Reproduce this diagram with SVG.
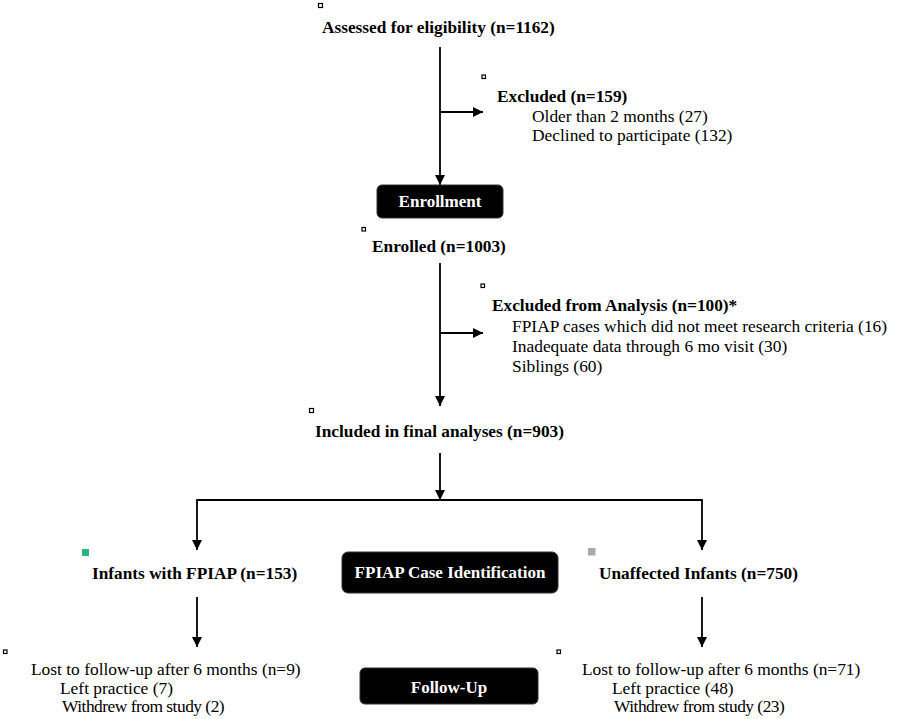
<svg xmlns="http://www.w3.org/2000/svg" width="900" height="719" viewBox="0 0 900 719">
<defs>
<marker id="ah" viewBox="0 0 10 10" refX="10" refY="5" markerWidth="10" markerHeight="10" markerUnits="userSpaceOnUse" orient="auto">
<path d="M0,0 L10,5 L0,10 Z" fill="#000"/>
</marker>
<style>
.b{font-family:"Liberation Serif","Times New Roman",serif;font-weight:bold;font-size:17.3px;fill:#000}
.r{font-family:"Liberation Serif","Times New Roman",serif;font-size:17.4px;fill:#000}
.w{font-family:"Liberation Serif","Times New Roman",serif;font-weight:bold;font-size:17px;fill:#fff}
.t{letter-spacing:-0.5px}
.sq{fill:#fff;stroke:#000;stroke-width:1.2}
.box{fill:#000;stroke:#333;stroke-width:1}
.ln{fill:none;stroke:#000;stroke-width:1.8}
</style>
</defs>
<rect width="900" height="719" fill="#fff"/>
<g id="connectors">
<line class="ln" x1="440" y1="47" x2="440" y2="185" marker-end="url(#ah)"/>
<line class="ln" x1="440" y1="112" x2="483" y2="112" marker-end="url(#ah)"/>
<line class="ln" x1="440" y1="263" x2="440" y2="406" marker-end="url(#ah)"/>
<line class="ln" x1="440" y1="333" x2="483" y2="333" marker-end="url(#ah)"/>
<line class="ln" x1="440" y1="453" x2="440" y2="500" marker-end="url(#ah)"/>
<polyline class="ln" points="197,500 702,500"/>
<line class="ln" x1="197" y1="499" x2="197" y2="550" marker-end="url(#ah)"/>
<line class="ln" x1="702" y1="499" x2="702" y2="550" marker-end="url(#ah)"/>
<line class="ln" x1="197" y1="597" x2="197" y2="647" marker-end="url(#ah)"/>
<line class="ln" x1="702" y1="597" x2="702" y2="647" marker-end="url(#ah)"/>
</g>
<g id="assessed">
<rect class="sq" x="318.5" y="3.5" width="4" height="4"/>
<text class="b" x="322" y="33">Assessed  for eligibility (n=1162)</text>
</g>
<g id="excluded">
<rect class="sq" x="482" y="75" width="3.5" height="3.5"/>
<text class="b" x="497" y="102">Excluded (n=159)</text>
<text class="r" x="532" y="122">Older than 2 months (27)</text>
<text class="r" x="532" y="141">Declined to participate (132)</text>
</g>
<g id="enrollment">
<rect class="box" x="377" y="185" width="126" height="33" rx="5"/>
<text class="w" x="440" y="207" text-anchor="middle">Enrollment</text>
</g>
<g id="enrolled">
<rect class="sq" x="362" y="227.5" width="3.5" height="3.5"/>
<text class="b" x="372" y="252">Enrolled (n=1003)</text>
</g>
<g id="excluded-analysis">
<rect class="sq" x="481" y="284" width="3.5" height="3.5"/>
<text class="b" x="492" y="311">Excluded from Analysis (n=100)*</text>
<text class="r" x="512" y="332">FPIAP cases which did not meet research criteria (16)</text>
<text class="r" x="512" y="352">Inadequate data through 6 mo visit (30)</text>
<text class="r" x="512" y="372">Siblings (60)</text>
</g>
<g id="included">
<rect class="sq" x="309.5" y="408.5" width="4" height="4"/>
<text class="b" x="315" y="437">Included in final analyses (n=903)</text>
</g>
<g id="fpiap">
<rect x="82" y="549" width="7" height="7" fill="#2bb77c"/>
<text class="b" x="92" y="579">Infants with FPIAP (n=153)</text>
</g>
<g id="case-identification">
<rect class="box" x="342" y="552" width="216" height="41" rx="6"/>
<text class="w" x="450" y="578" text-anchor="middle">FPIAP Case Identification</text>
</g>
<g id="unaffected">
<rect x="588" y="548" width="7.5" height="7.5" fill="#aaaaaa"/>
<text class="b" x="599" y="579">Unaffected Infants (n=750)</text>
</g>
<g id="lost-fpiap">
<rect class="sq" x="3.5" y="650" width="3.5" height="3.5"/>
<text class="r" x="31" y="675">Lost to  follow-up after 6 months (n=9)</text>
<text class="r" x="60" y="694">Left practice (7)</text>
<text class="r t" x="62" y="712">Withdrew from study (2)</text>
</g>
<g id="follow-up">
<rect class="box" x="360" y="668" width="178" height="36" rx="5"/>
<text class="w" x="449" y="693" text-anchor="middle">Follow-Up</text>
</g>
<g id="lost-unaffected">
<rect class="sq" x="557" y="650" width="3.5" height="3.5"/>
<text class="r" x="582" y="675">Lost to  follow-up after 6 months (n=71)</text>
<text class="r" x="612" y="694">Left practice (48)</text>
<text class="r t" x="614" y="712">Withdrew from study (23)</text>
</g>
</svg>
